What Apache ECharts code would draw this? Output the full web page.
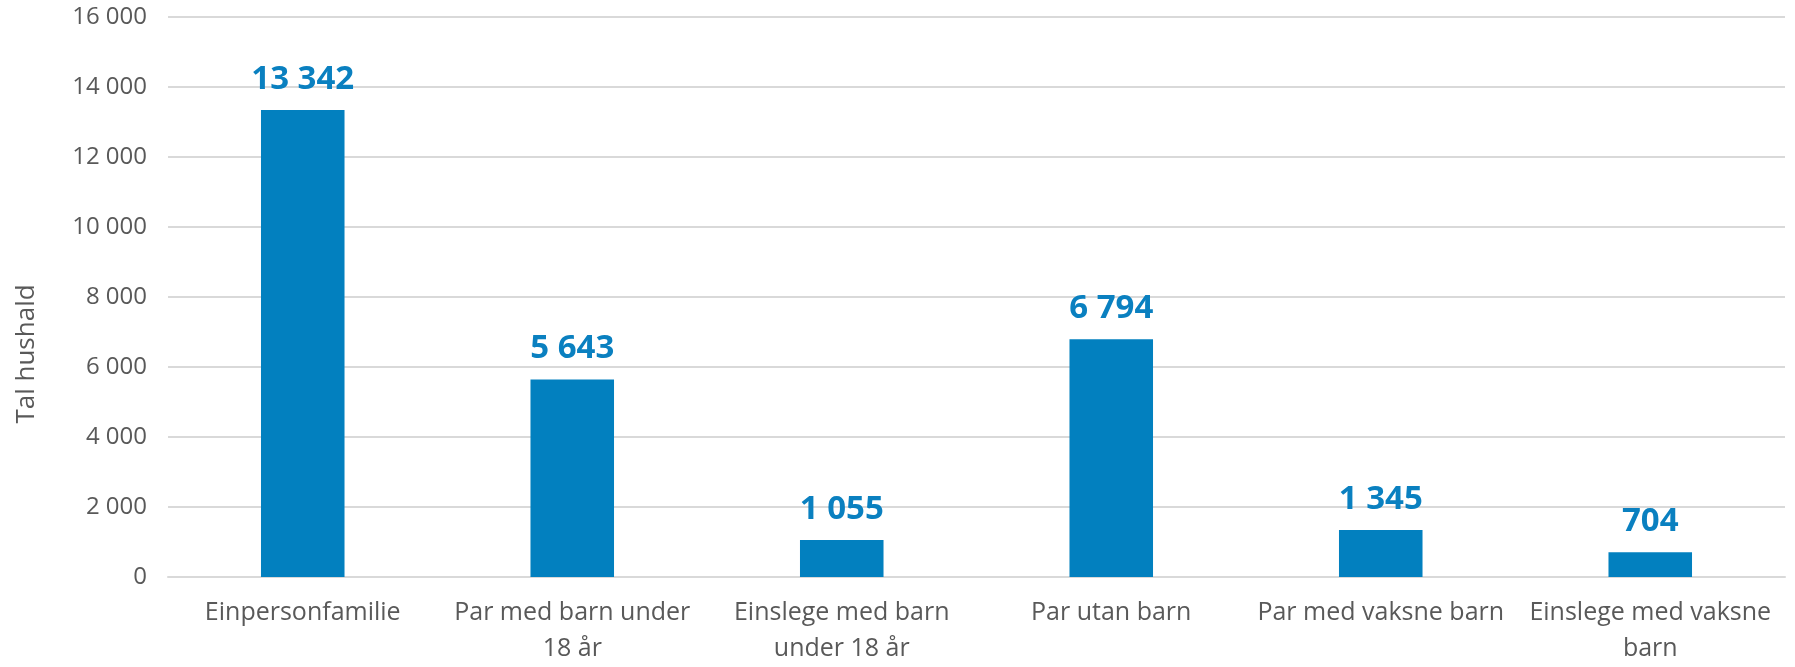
<!DOCTYPE html>
<html>
<head>
<meta charset="utf-8">
<script src="https://cdn.jsdelivr.net/npm/echarts@6/dist/echarts.min.js"></script>
<style>
  html, body { margin: 0; padding: 0; background: #fff; }
  #main { width: 1795px; height: 667px; }
</style>
</head>
<body>
<div id="main"></div>
<script>
// kategoriar (tekst som på aksen, med linjeskift)
const categories = [
  'Einpersonfamilie',
  'Par med barn under\n18 år',
  'Einslege med barn\nunder 18 år',
  'Par utan barn',
  'Par med vaksne barn',
  'Einslege med vaksne\nbarn'
]
// tal hushald
const values = [13342, 5643, 1055, 6794, 1345, 704]

const yMax = 16000
const yStep = 2000

const fmt = v => String(v).replace(/\B(?=(\d{3})+(?!\d))/g, ' ')

const chart = echarts.init(document.getElementById('main'), null, { renderer: 'canvas' })

const font = '"Open Sans", "Noto Sans", sans-serif'

const option = {
  backgroundColor: '#ffffff',
  animation: false,
  grid: { left: 168, right: 10, top: 17, bottom: 86, containLabel: false },
  graphic: [{
    type: 'text',
    rotation: Math.PI / 2,
    x: 27,
    y: 354,
    style: {
      text: 'Tal hushald',
      fill: '#595959',
      font: '26px ' + font,
      textAlign: 'center',
      textVerticalAlign: 'middle'
    }
  }],
  xAxis: {
    type: 'category',
    data: categories,
    axisTick: { show: false },
    axisLine: { show: true, lineStyle: { color: '#d9d9d9', width: 2 } },
    axisLabel: {
      color: '#595959',
      fontFamily: font,
      fontSize: 25,
      lineHeight: 36,
      margin: 18,
      interval: 0
    }
  },
  yAxis: {
    type: 'value',
    min: 0,
    max: yMax,
    interval: yStep,
    axisLine: { show: false },
    axisTick: { show: false },
    splitLine: { lineStyle: { color: '#d9d9d9', width: 2 } },
    axisLabel: {
      color: '#595959',
      fontFamily: font,
      fontSize: 24,
      margin: 21,
      formatter: fmt
    }
  },
  series: [{
    type: 'bar',
    data: values,
    barWidth: '31%',
    itemStyle: { color: '#0280bf' },
    label: {
      show: true,
      position: 'top',
      distance: 14,
      color: '#0a80c0',
      fontFamily: font,
      fontWeight: 'bold',
      fontSize: 33,
      formatter: p => fmt(p.value)
    }
  }]
}

chart.setOption(option)
</script>
</body>
</html>
